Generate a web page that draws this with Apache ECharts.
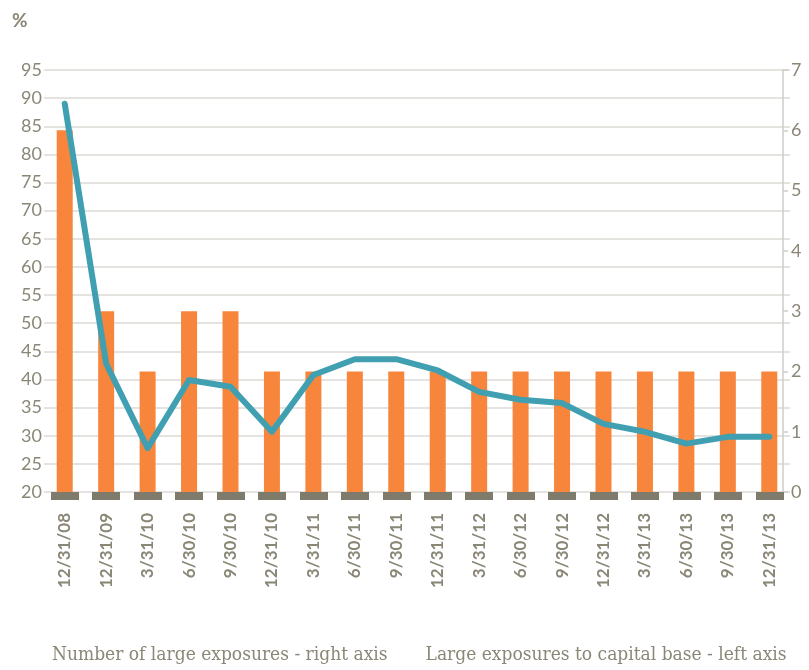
<!DOCTYPE html>
<html>
<head>
<meta charset="utf-8">
<script src="https://cdn.jsdelivr.net/npm/echarts@6/dist/echarts.min.js"></script>
<style>
  html, body { margin: 0; padding: 0; background: #fff; }
  #chart { width: 809px; height: 670px; }
</style>
</head>
<body>
<div id="chart"></div>
<script>
// quarter-end dates
const categories = [
  '12/31/08', '12/31/09', '3/31/10', '6/30/10', '9/30/10', '12/31/10',
  '3/31/11', '6/30/11', '9/30/11', '12/31/11', '3/31/12', '6/30/12',
  '9/30/12', '12/31/12', '3/31/13', '6/30/13', '9/30/13', '12/31/13',
];
// number of large exposures (right axis)
const exposureCount = [6, 3, 2, 3, 3, 2, 2, 2, 2, 2, 2, 2, 2, 2, 2, 2, 2, 2];
// large exposures to capital base, % (left axis)
const exposureShare = [
  89, 42.8, 27.8, 39.9, 38.7, 30.7, 40.8, 43.6, 43.6, 41.6,
  37.8, 36.4, 35.8, 32.1, 30.7, 28.6, 29.8, 29.8,
];
const leftTicks = { min: 20, max: 95, step: 5 };
const rightTicks = { min: 0, max: 7, step: 1 };

const gray = '#8a8777';
const gridGray = '#dcdad5';

const chart = echarts.init(document.getElementById('chart'));

const option = {
  animation: false,
  title: {
    text: '%',
    left: 7,
    top: 6,
    textStyle: { color: gray, fontSize: 19, fontWeight: 'bold', fontFamily: 'Lato' },
  },
  legend: {
    bottom: 0,
    left: 42,
    icon: 'none',
    itemWidth: 0,
    itemGap: 33,
    data: ['Number of large exposures - right axis', 'Large exposures to capital base - left axis'],
    textStyle: { color: gray, fontSize: 19, fontFamily: '"DejaVu Serif Condensed", "Liberation Serif", serif' },
  },
  grid: { left: 44, right: 19, top: 70, bottom: 178 },
  xAxis: {
    type: 'category',
    data: categories,
    offset: 5,
    axisLine: { show: false },
    axisTick: {
      show: true,
      alignWithLabel: true,
      interval: 0,
      length: 8,
      lineStyle: { width: 28, color: '#7f7b6c' },
    },
    axisLabel: {
      interval: 0,
      rotate: 90,
      margin: 16,
      color: gray,
      fontSize: 17,
      fontWeight: 'bold',
      fontFamily: 'Lato',
    },
  },
  yAxis: [
    {
      type: 'value',
      min: leftTicks.min,
      max: leftTicks.max,
      interval: leftTicks.step,
      axisLine: { show: false },
      axisTick: { show: false },
      axisLabel: { color: gray, fontSize: 18, margin: 2, fontFamily: 'Lato' },
      splitLine: { lineStyle: { color: gridGray, width: 1.5 } },
    },
    {
      type: 'value',
      position: 'right',
      offset: -7,
      min: rightTicks.min,
      max: rightTicks.max,
      interval: rightTicks.step,
      axisLine: { show: true, lineStyle: { color: '#cfcdc7', width: 1.5 } },
      axisTick: { show: true, length: 5, lineStyle: { color: '#cfcdc7', width: 1.5 } },
      axisLabel: { color: gray, fontSize: 18, margin: 8, fontFamily: 'Lato' },
      splitLine: { show: false },
    },
  ],
  series: [
    {
      name: 'Number of large exposures - right axis',
      type: 'bar',
      yAxisIndex: 1,
      data: exposureCount,
      barWidth: 16,
      itemStyle: { color: '#f7863c' },
    },
    {
      name: 'Large exposures to capital base - left axis',
      type: 'line',
      yAxisIndex: 0,
      data: exposureShare,
      showSymbol: false,
      lineStyle: { color: '#40a0b1', width: 6, cap: 'round', join: 'round' },
      itemStyle: { color: '#40a0b1' },
    },
  ],
};

chart.setOption(option);
</script>
</body>
</html>
